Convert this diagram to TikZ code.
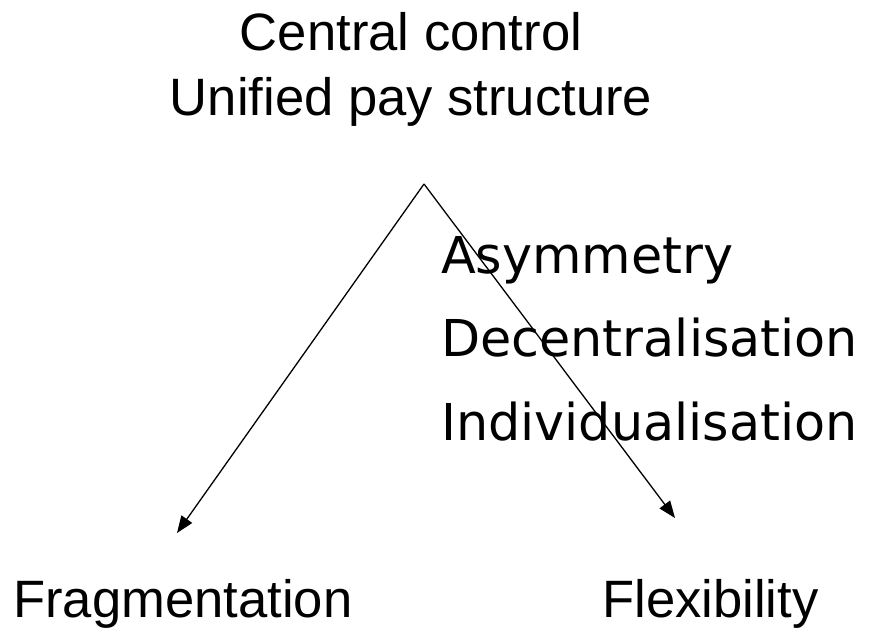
\documentclass[tikz,border=0pt]{standalone}
\usepackage{fontspec}
\setmainfont{Liberation Sans}
\newfontfamily\trendfont{DejaVu Sans}
\usepackage{tikz}
\usetikzlibrary{arrows.meta}
\tikzstyle{every node}=[inner sep=0pt]
\tikzstyle{heading}=[font=\fontsize{52.6}{65}\selectfont,align=center,anchor=north]
\tikzstyle{trend}=[font=\trendfont\fontsize{50.8}{83.5}\selectfont,align=left,anchor=north west]
\tikzstyle{outcome}=[font=\fontsize{52.6}{63}\selectfont,anchor=base west]
\tikzstyle{branch}=[line width=1.3pt,-{Triangle[length=17pt,width=13pt]}]

\begin{document}
\begin{tikzpicture}[x=1pt,y=-1pt]
            \useasboundingbox (0,0) rectangle (870,630);
            \node [heading] (top) at (411,12) {Central control\\Unified pay structure};
            \node [trend] (trends) at (441,236) {Asymmetry\\Decentralisation\\Individualisation};
            \node [outcome] (frag) at (13,617) {Fragmentation};
            \node [outcome] (flex) at (602,617) {Flexibility};
            \coordinate (apex) at (424,184);
            \coordinate (fragtip) at (177,533);
            \coordinate (flextip) at (675,518);
            \draw [branch] (apex) -- (fragtip);
            \draw [branch] (apex) -- (flextip);
        \end{tikzpicture}
\end{document}
